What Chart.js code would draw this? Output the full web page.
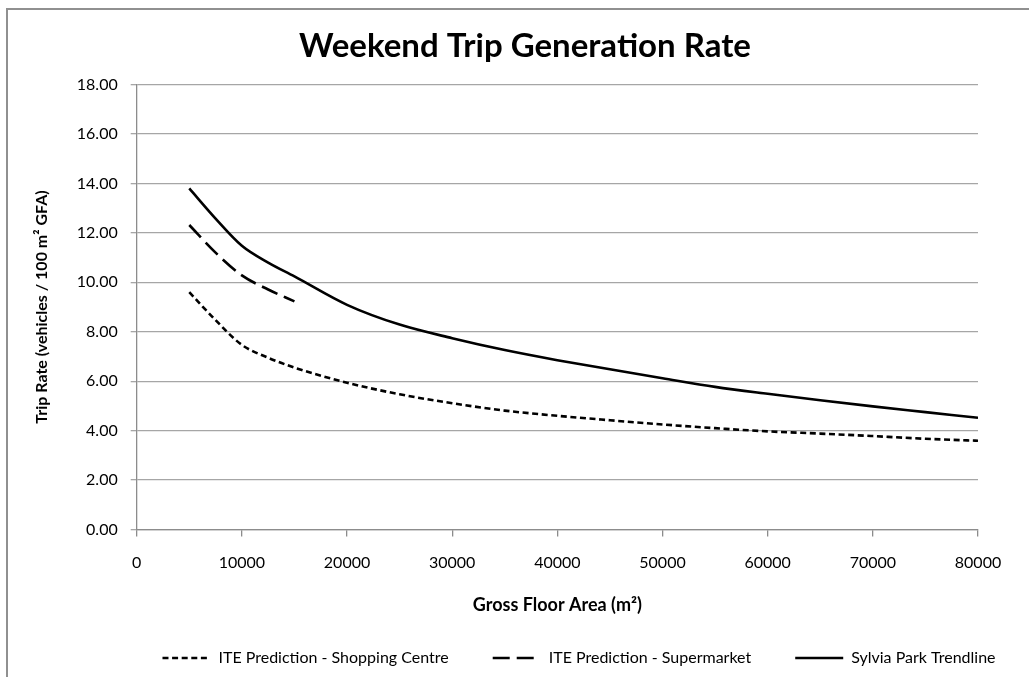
<!DOCTYPE html>
<html><head><meta charset="utf-8">
<script src="https://cdn.jsdelivr.net/npm/chart.js@4.4.1/dist/chart.umd.min.js"></script>
<style>
html,body{margin:0;padding:0;background:#fff;overflow:hidden}
#frame{position:absolute;left:6px;top:8px;width:1100px;height:720px;border-left:2px solid #909090;border-top:2px solid #909090;box-sizing:border-box}
#wrap{position:absolute;left:0;top:0;width:1029px;height:677px}
</style></head><body>
<div id="frame"></div>
<div id="wrap"><canvas id="c"></canvas></div>
<script>
const chartTitle = 'Weekend Trip Generation Rate';
const xTitle = 'Gross Floor Area (m²)';
const yTitle = 'Trip Rate (vehicles / 100 m² GFA)';
const seriesNames = ['ITE Prediction - Shopping Centre', 'ITE Prediction - Supermarket', 'Sylvia Park Trendline'];

const gfaShopping = [5000, 7500, 10000, 12500, 15000, 20000, 25000, 30000, 35000, 40000, 45000, 50000, 55000, 60000, 65000, 70000, 75000, 80000];
const rateShopping = [9.60, 8.47, 7.47, 6.95, 6.55, 5.94, 5.47, 5.11, 4.81, 4.60, 4.42, 4.25, 4.10, 3.97, 3.88, 3.78, 3.67, 3.59];

const gfaSupermarket = [5000, 7500, 10000, 12500, 15000];
const rateSupermarket = [12.32, 11.20, 10.28, 9.71, 9.23];

const gfaSylvia = [5000, 7500, 10000, 12500, 15000, 20000, 25000, 30000, 35000, 40000, 45000, 50000, 55000, 60000, 65000, 70000, 75000, 80000];
const rateSylvia = [13.80, 12.58, 11.48, 10.80, 10.24, 9.09, 8.29, 7.74, 7.26, 6.85, 6.48, 6.12, 5.77, 5.49, 5.23, 4.98, 4.75, 4.52];

const xTickValues = [0, 10000, 20000, 30000, 40000, 50000, 60000, 70000, 80000];
const yTickValues = [0, 2, 4, 6, 8, 10, 12, 14, 16, 18];

const pts = (xs, ys) => xs.map((x, i) => ({x: x, y: ys[i]}));

Chart.defaults.font.family = 'Lato, "Noto Sans", sans-serif';
Chart.defaults.color = '#000';

const shiftBlocks = {
  id: 'shiftBlocks',
  afterLayout(chart, args, o) {
    const t = chart.titleBlock, l = chart.legend;
    if (t) { t.left += o.titleDx; t.right += o.titleDx; }
    if (l) {
      const pad = l.options.labels.padding, fs = l.options.labels.font.size;
      l.left += o.legendDx; l.right += o.legendDx;
      l.top = o.legendY - pad - fs / 2; l.bottom = l.top + pad + fs + 12;
    }
  }
};

new Chart(document.getElementById('c'), {
  type: 'line',
  data: {
    datasets: [
      {label: seriesNames[0], data: pts(gfaShopping, rateShopping), borderColor: '#000', backgroundColor: '#000', borderWidth: 2.6, borderDash: [6, 3.6], pointRadius: 0, cubicInterpolationMode: 'monotone', fill: false},
      {label: seriesNames[1], data: pts(gfaSupermarket, rateSupermarket), borderColor: '#000', backgroundColor: '#000', borderWidth: 2.6, borderDash: [17, 7], pointRadius: 0, cubicInterpolationMode: 'monotone', fill: false},
      {label: seriesNames[2], data: pts(gfaSylvia, rateSylvia), borderColor: '#000', backgroundColor: '#000', borderWidth: 2.6, borderDash: [], pointRadius: 0, cubicInterpolationMode: 'monotone', fill: false}
    ]
  },
  options: {
    responsive: true,
    maintainAspectRatio: false,
    animation: false,
    layout: {padding: {left: 0, right: 51, top: 0, bottom: 0}},
    scales: {
      x: {
        type: 'linear', min: 0, max: 80000,
        afterBuildTicks: s => { s.ticks = xTickValues.map(v => ({value: v})); },
        afterFit: s => { s.height = 107.5; },
        ticks: {font: {size: 16}, padding: 17, callback: v => String(v), maxRotation: 0, autoSkip: false},
        grid: {drawOnChartArea: false, drawTicks: true, tickLength: 7, color: '#8c8c8c', lineWidth: 1.3},
        border: {color: '#8c8c8c', width: 1.3},
        title: {display: true, text: xTitle, font: {size: 18, weight: 'bold'}, padding: {top: 0, bottom: 21}}
      },
      y: {
        type: 'linear', min: 0, max: 18,
        afterBuildTicks: s => { s.ticks = yTickValues.map(v => ({value: v})); },
        afterFit: s => { s.width = 136.7; },
        ticks: {font: {size: 16}, padding: 13, callback: v => v.toFixed(2)},
        grid: {drawTicks: true, tickLength: 6, color: '#a6a6a6', lineWidth: 1.3},
        border: {color: '#8c8c8c', width: 1.3},
        title: {display: true, text: yTitle, font: {size: 16, weight: 'bold'}, padding: {top: 32, bottom: 0}}
      }
    },
    plugins: {
      title: {display: true, text: chartTitle, font: {size: 33, weight: 'bold'}, color: '#000', padding: {top: 27, bottom: 18}},
      legend: {
        position: 'bottom', maxHeight: 40,
        labels: {
          usePointStyle: true, pointStyle: 'line', pointStyleWidth: 48, font: {size: 16}, padding: 44, color: '#000',
          generateLabels: chart => {
            const items = Chart.defaults.plugins.legend.labels.generateLabels(chart);
            items.forEach(it => {
              const ds = chart.data.datasets[it.datasetIndex];
              it.lineDash = ds.borderDash;
              it.lineWidth = ds.borderWidth;
              it.strokeStyle = ds.borderColor;
              it.pointStyle = 'line';
            });
            return items;
          }
        }
      },
      tooltip: {enabled: false},
      shiftBlocks: {titleDx: 36, legendDx: 90, legendY: 658}
    }
  },
  plugins: [shiftBlocks]
});
</script>
</body></html>
